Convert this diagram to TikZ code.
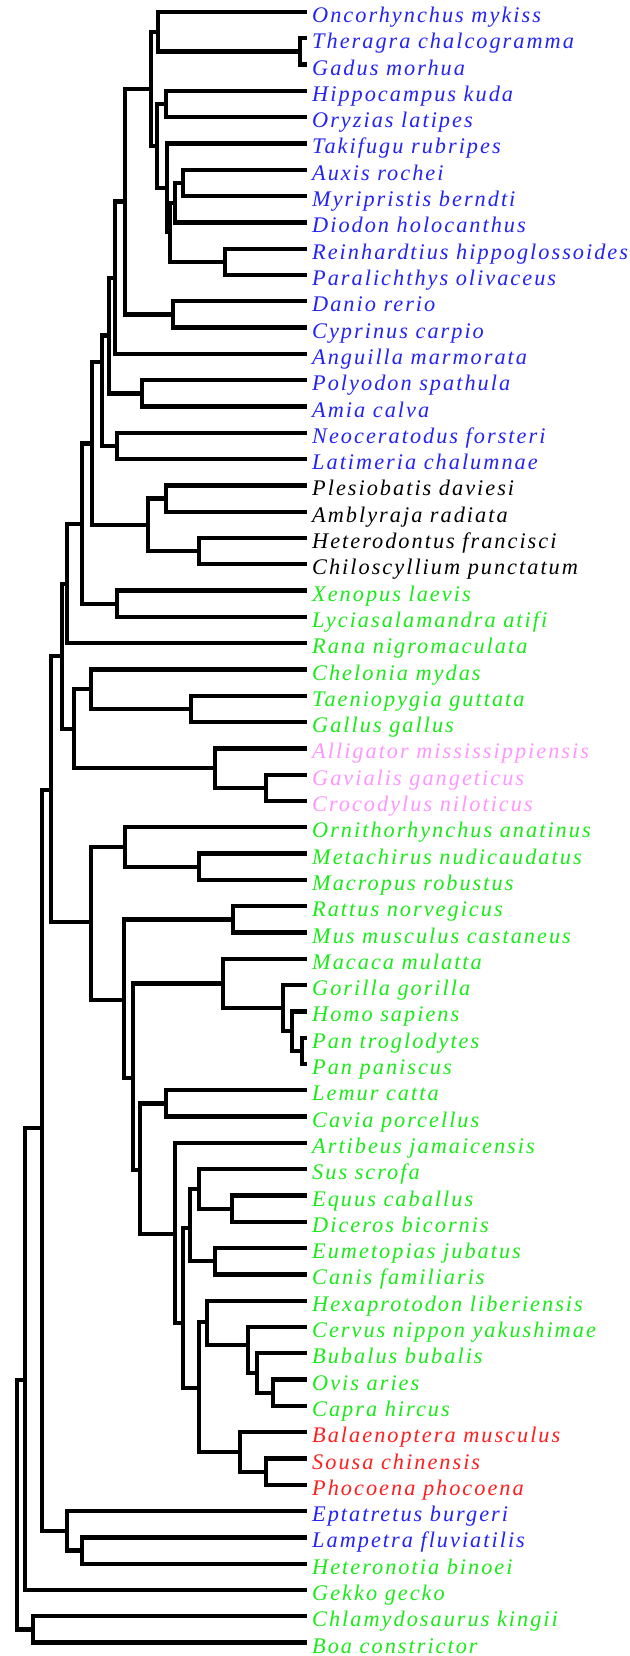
\documentclass[tikz,border=0pt]{standalone}
\usepackage{fontspec}
\newfontfamily\labfont[LetterSpace=9]{Liberation Serif}
\definecolor{fb}{RGB}{35,35,245}
\definecolor{gr}{RGB}{25,235,25}
\definecolor{pk}{RGB}{255,150,255}
\definecolor{rd}{RGB}{255,30,30}
\definecolor{bk}{RGB}{0,0,0}
\begin{document}
\begin{tikzpicture}[x=1pt,y=-1pt,
  br/.style={line width=4.3pt, black},
  lab/.style={anchor=base west, inner sep=0pt, font={\labfont\fontsize{22.3}{24}\selectfont\itshape}}]
\useasboundingbox (0,0) rectangle (629,1656);
\foreach \i in {1,...,63} { \coordinate (L\i) at (307,{12+(\i-1)*26.3}); }
\foreach \i/\t/\c in {
 1/Oncorhynchus mykiss/fb, 2/Theragra chalcogramma/fb, 3/Gadus morhua/fb,
 4/Hippocampus kuda/fb, 5/Oryzias latipes/fb, 6/Takifugu rubripes/fb,
 7/Auxis rochei/fb, 8/Myripristis berndti/fb, 9/Diodon holocanthus/fb,
 10/Reinhardtius hippoglossoides/fb, 11/Paralichthys olivaceus/fb,
 12/Danio rerio/fb, 13/Cyprinus carpio/fb, 14/Anguilla marmorata/fb,
 15/Polyodon spathula/fb, 16/Amia calva/fb, 17/Neoceratodus forsteri/fb,
 18/Latimeria chalumnae/fb, 19/Plesiobatis daviesi/bk, 20/Amblyraja radiata/bk,
 21/Heterodontus francisci/bk, 22/Chiloscyllium punctatum/bk,
 23/Xenopus laevis/gr, 24/Lyciasalamandra atifi/gr, 25/Rana nigromaculata/gr,
 26/Chelonia mydas/gr, 27/Taeniopygia guttata/gr, 28/Gallus gallus/gr,
 29/Alligator mississippiensis/pk, 30/Gavialis gangeticus/pk, 31/Crocodylus niloticus/pk,
 32/Ornithorhynchus anatinus/gr, 33/Metachirus nudicaudatus/gr, 34/Macropus robustus/gr,
 35/Rattus norvegicus/gr, 36/Mus musculus castaneus/gr, 37/Macaca mulatta/gr,
 38/Gorilla gorilla/gr, 39/Homo sapiens/gr, 40/Pan troglodytes/gr, 41/Pan paniscus/gr,
 42/Lemur catta/gr, 43/Cavia porcellus/gr, 44/Artibeus jamaicensis/gr,
 45/Sus scrofa/gr, 46/Equus caballus/gr, 47/Diceros bicornis/gr,
 48/Eumetopias jubatus/gr, 49/Canis familiaris/gr, 50/Hexaprotodon liberiensis/gr,
 51/Cervus nippon yakushimae/gr, 52/Bubalus bubalis/gr, 53/Ovis aries/gr,
 54/Capra hircus/gr, 55/Balaenoptera musculus/rd, 56/Sousa chinensis/rd,
 57/Phocoena phocoena/rd, 58/Eptatretus burgeri/fb, 59/Lampetra fluviatilis/fb,
 60/Heteronotia binoei/gr, 61/Gekko gecko/gr, 62/Chlamydosaurus kingii/gr,
 63/Boa constrictor/gr}
 { \node[lab, text=\c] (T\i) at ([shift={(5,10.5)}]L\i) {\t}; }
\coordinate (n01) at (300,51.45);
\coordinate (n02) at (158,31.7);
\coordinate (n03) at (166,104.05);
\coordinate (n04) at (183,182.95);
\coordinate (n05) at (175,202.7);
\coordinate (n06) at (225,261.85);
\coordinate (n07) at (170,232.3);
\coordinate (n08) at (167,187.9);
\coordinate (n09) at (157,146);
\coordinate (n10) at (151,88.8);
\coordinate (n11) at (173,314.45);
\coordinate (n12) at (125,201.6);
\coordinate (n13) at (115,277.8);
\coordinate (n14) at (142,393.35);
\coordinate (n15) at (109,335.6);
\coordinate (n16) at (117,445.95);
\coordinate (n17) at (102,362);
\coordinate (n18) at (166,498.55);
\coordinate (n19) at (199,551.15);
\coordinate (n20) at (148,524.9);
\coordinate (n21) at (92,443.5);
\coordinate (n22) at (117,603.75);
\coordinate (n23) at (82,524);
\coordinate (n24) at (67,584);
\coordinate (n25) at (191,708.95);
\coordinate (n26) at (91,689.2);
\coordinate (n27) at (266,787.85);
\coordinate (n28) at (215,768.1);
\coordinate (n29) at (74,728.7);
\coordinate (n30) at (62,656.3);
\coordinate (n31) at (199,866.75);
\coordinate (n32) at (125,847);
\coordinate (n33) at (233,919.35);
\coordinate (n34) at (302,1050.85);
\coordinate (n35) at (292,1031.1);
\coordinate (n36) at (283,1008.1);
\coordinate (n37) at (223,983.5);
\coordinate (n38) at (166,1103.45);
\coordinate (n39) at (232,1208.65);
\coordinate (n40) at (199,1188.9);
\coordinate (n41) at (215,1261.25);
\coordinate (n42) at (190,1228);
\coordinate (n43) at (273,1392.75);
\coordinate (n44) at (257,1373);
\coordinate (n45) at (248,1345);
\coordinate (n46) at (207,1322);
\coordinate (n47) at (266,1471.65);
\coordinate (n48) at (240,1452);
\coordinate (n49) at (199,1388);
\coordinate (n50) at (183,1323);
\coordinate (n51) at (175,1234);
\coordinate (n52) at (140,1170);
\coordinate (n53) at (133,1078);
\coordinate (n54) at (124,1000);
\coordinate (n55) at (91,922);
\coordinate (n56) at (51,790);
\coordinate (n57) at (82,1550.55);
\coordinate (n58) at (67,1530.8);
\coordinate (n59) at (42,1128);
\coordinate (n60) at (25,1380);
\coordinate (n61) at (33,1629.45);
\coordinate (n62) at (17,1505);
\foreach \p/\a/\b in {
 n01/L2/L3, n02/L1/n01, n03/L4/L5, n04/L7/L8, n05/n04/L9, n06/L10/L11,
 n07/n05/n06, n08/L6/n07, n09/n03/n08, n10/n02/n09, n11/L12/L13,
 n12/n10/n11, n13/n12/L14, n14/L15/L16, n15/n13/n14, n16/L17/L18,
 n17/n15/n16, n18/L19/L20, n19/L21/L22, n20/n18/n19, n21/n17/n20,
 n22/L23/L24, n23/n21/n22, n24/n23/L25, n25/L27/L28, n26/L26/n25,
 n27/L30/L31, n28/L29/n27, n29/n26/n28, n30/n24/n29, n31/L33/L34,
 n32/L32/n31, n33/L35/L36, n34/L40/L41, n35/L39/n34, n36/L38/n35,
 n37/L37/n36, n38/L42/L43, n39/L46/L47, n40/L45/n39, n41/L48/L49,
 n42/n40/n41, n43/L53/L54, n44/L52/n43, n45/L51/n44, n46/L50/n45,
 n47/L56/L57, n48/L55/n47, n49/n46/n48, n50/n42/n49, n51/L44/n50,
 n52/n38/n51, n53/n37/n52, n54/n33/n53, n55/n32/n54, n56/n30/n55,
 n57/L59/L60, n58/L58/n57, n59/n56/n58, n60/n59/L61, n61/L62/L63,
 n62/n60/n61}
 { \draw[br] (\a) -| (\p) |- (\b); }
\end{tikzpicture}
\end{document}
